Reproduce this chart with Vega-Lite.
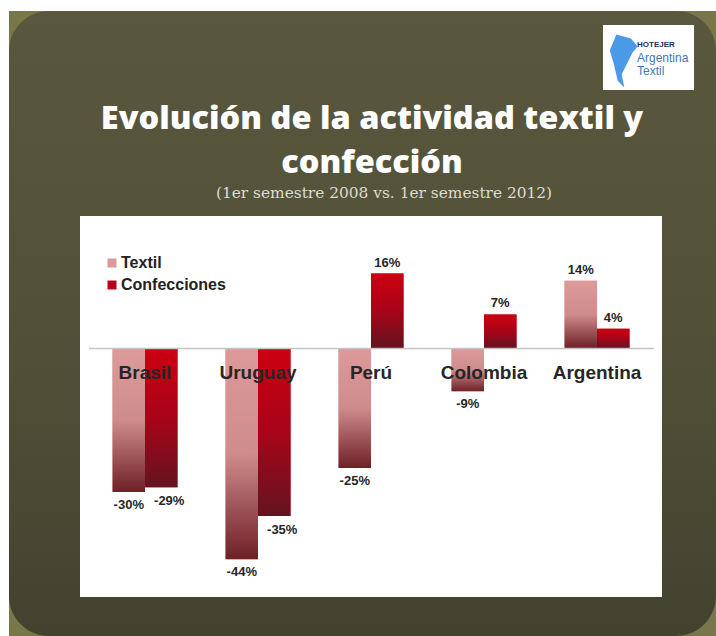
{
  "$schema": "https://vega.github.io/schema/vega-lite/v6.json",
  "autosize": {"type": "none"},
  "width": 707,
  "height": 625,
  "padding": {"left": 9, "top": 11, "right": 0, "bottom": 0},
  "background": "#ffffff",
  "config": {"view": {"fill": "#77774a", "stroke": null}},
  "title": {
    "text": ["Evolución de la actividad textil y", "confección"],
    "anchor": "middle",
    "frame": "group",
    "dx": 9.5,
    "offset": -168,
    "font": "Open Sans",
    "fontSize": 32.5,
    "fontWeight": 800,
    "lineHeight": 44,
    "color": "#ffffff"
  },
  "data": {"values": [
    {"pais": "Brasil", "serie": "Textil", "valor": -30, "etiqueta": "-30%"},
    {"pais": "Brasil", "serie": "Confecciones", "valor": -29, "etiqueta": "-29%"},
    {"pais": "Uruguay", "serie": "Textil", "valor": -44, "etiqueta": "-44%"},
    {"pais": "Uruguay", "serie": "Confecciones", "valor": -35, "etiqueta": "-35%"},
    {"pais": "Perú", "serie": "Textil", "valor": -25, "etiqueta": "-25%"},
    {"pais": "Perú", "serie": "Confecciones", "valor": 15.5, "etiqueta": "16%"},
    {"pais": "Colombia", "serie": "Textil", "valor": -9, "etiqueta": "-9%"},
    {"pais": "Colombia", "serie": "Confecciones", "valor": 7, "etiqueta": "7%"},
    {"pais": "Argentina", "serie": "Textil", "valor": 14, "etiqueta": "14%"},
    {"pais": "Argentina", "serie": "Confecciones", "valor": 4, "etiqueta": "4%"}
  ]},
  "encoding": {
    "x": {
      "field": "pais", "type": "nominal",
      "sort": ["Brasil", "Uruguay", "Perú", "Colombia", "Argentina"],
      "scale": {"range": [79.5, 644.5], "paddingInner": 0, "paddingOuter": 0},
      "axis": {
        "title": null, "offset": -288, "zindex": 1, "ticks": false, "labelAngle": 0,
        "domainColor": "#c4c4c4", "domainWidth": 1.5,
        "labelFont": "Liberation Sans", "labelFontWeight": "bold", "labelFontSize": 19,
        "labelColor": "#262626", "labelPadding": 15
      }
    },
    "xOffset": {
      "field": "serie", "type": "nominal",
      "sort": ["Textil", "Confecciones"],
      "scale": {"paddingInner": 0, "paddingOuter": 0.74}
    },
    "y": {
      "field": "valor", "type": "quantitative", "stack": null,
      "scale": {"domain": [-60, 70.2083], "nice": false, "zero": false},
      "axis": null
    }
  },
  "layer": [
    {
      "data": {"values": [{"capa": "placa"}]},
      "mark": {
        "type": "rect", "cornerRadius": 40,
        "fill": {"gradient": "linear", "x1": 0, "y1": 0, "x2": 0, "y2": 1,
          "stops": [{"offset": 0, "color": "#59583e"}, {"offset": 0.5, "color": "#525138"}, {"offset": 1, "color": "#43422f"}]}
      },
      "encoding": {"x": {"value": 0}, "x2": {"value": 707}, "y": {"value": 0}, "y2": {"value": 625}, "xOffset": {"value": 0}}
    },
    {
      "data": {"values": [{"capa": "panel"}]},
      "mark": {"type": "rect", "fill": "#ffffff"},
      "encoding": {"x": {"value": 71}, "x2": {"value": 653}, "y": {"value": 205}, "y2": {"value": 586}, "xOffset": {"value": 0}}
    },
    {
      "data": {"values": [{"capa": "logo"}]},
      "mark": {"type": "rect", "fill": "#ffffff"},
      "encoding": {"x": {"value": 594}, "x2": {"value": 685}, "y": {"value": 14}, "y2": {"value": 79}, "xOffset": {"value": 0}}
    },
    {
      "data": {"values": [{"capa": "logo"}]},
      "mark": {"type": "point", "filled": true, "fill": "#4a9ae8", "opacity": 1, "size": 2800,
        "shape": "M-0.25,-1 L0.3,-0.85 L0.55,-0.55 L0.35,-0.3 L0.15,0.1 L-0.05,0.5 L0.05,1 L-0.2,0.75 L-0.35,0.1 L-0.5,-0.4 Z"},
      "encoding": {"x": {"value": 614}, "y": {"value": 50}, "xOffset": {"value": 0}}
    },
    {
      "data": {"values": [{"t": "HOTEJER"}]},
      "mark": {"type": "text", "align": "left", "font": "Liberation Sans", "fontWeight": "bold", "fontSize": 8, "fill": "#1f2f5f"},
      "encoding": {"text": {"field": "t"}, "x": {"value": 628}, "y": {"value": 34}, "xOffset": {"value": 0}}
    },
    {
      "data": {"values": [{"t": "Argentina"}]},
      "mark": {"type": "text", "align": "left", "font": "Liberation Sans", "fontSize": 12, "fill": "#3f78b8"},
      "encoding": {"text": {"field": "t"}, "x": {"value": 628}, "y": {"value": 47}, "xOffset": {"value": 0}}
    },
    {
      "data": {"values": [{"t": "Textil"}]},
      "mark": {"type": "text", "align": "left", "font": "Liberation Sans", "fontSize": 12, "fill": "#3f78b8"},
      "encoding": {"text": {"field": "t"}, "x": {"value": 628}, "y": {"value": 60}, "xOffset": {"value": 0}}
    },
    {
      "data": {"values": [{"t": "(1er semestre 2008 vs. 1er semestre 2012)"}]},
      "mark": {"type": "text", "font": "DejaVu Serif", "fontSize": 15.4, "fill": "#dcdcd2"},
      "encoding": {"text": {"field": "t"}, "x": {"value": 375}, "y": {"value": 182}, "xOffset": {"value": 0}}
    },
    {
      "mark": {"type": "bar"},
      "encoding": {
        "color": {
          "field": "serie", "type": "nominal",
          "scale": {"domain": ["Textil", "Confecciones"], "range": ["#d89a9a", "#b80018"]},
          "legend": {
            "title": null, "orient": "none", "legendX": 95, "legendY": 244,
            "symbolType": "square", "symbolSize": 80, "rowPadding": 6,
            "labelFont": "Liberation Sans", "labelFontWeight": "bold", "labelFontSize": 16,
            "labelColor": "#222222", "labelOffset": 1
          }
        }
      }
    },
    {
      "transform": [{"filter": "datum.serie === 'Textil'"}],
      "mark": {
        "type": "bar",
        "fill": {"gradient": "linear", "x1": 0, "y1": 0, "x2": 0, "y2": 1,
          "stops": [{"offset": 0, "color": "#dc9a9a"}, {"offset": 0.5, "color": "#cf8c8c"}, {"offset": 1, "color": "#6e2026"}]}
      }
    },
    {
      "transform": [{"filter": "datum.serie === 'Confecciones'"}],
      "mark": {
        "type": "bar",
        "fill": {"gradient": "linear", "x1": 0, "y1": 0, "x2": 0, "y2": 1,
          "stops": [{"offset": 0, "color": "#cc0010"}, {"offset": 0.5, "color": "#a80418"}, {"offset": 1, "color": "#641420"}]}
      }
    },
    {
      "transform": [{"filter": "datum.valor < 0 && datum.serie === 'Textil'"}],
      "mark": {"type": "text", "dy": 13, "font": "Liberation Sans", "fontWeight": "bold", "fontSize": 13, "fill": "#262626"},
      "encoding": {"text": {"field": "etiqueta"}}
    },
    {
      "transform": [{"filter": "datum.valor < 0 && datum.serie === 'Confecciones'"}],
      "mark": {"type": "text", "dy": 14, "dx": 8, "font": "Liberation Sans", "fontWeight": "bold", "fontSize": 13, "fill": "#262626"},
      "encoding": {"text": {"field": "etiqueta"}}
    },
    {
      "transform": [{"filter": "datum.valor > 0"}],
      "mark": {"type": "text", "dy": -11, "font": "Liberation Sans", "fontWeight": "bold", "fontSize": 13, "fill": "#262626"},
      "encoding": {"text": {"field": "etiqueta"}}
    }
  ]
}
